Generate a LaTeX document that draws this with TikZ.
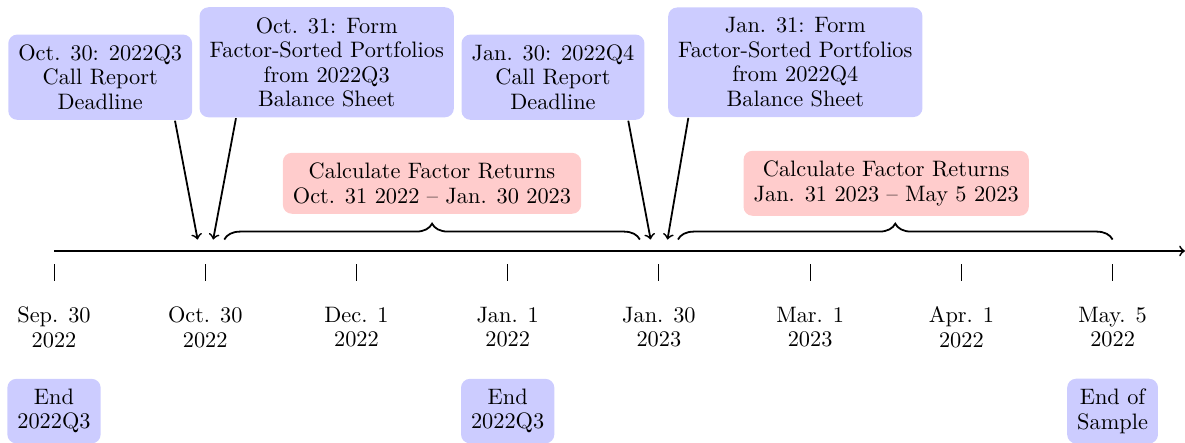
\documentclass[tikz,border=0pt]{standalone}
\usepackage{amsmath}
\usepackage{tikz}
\usetikzlibrary{calc}
\usetikzlibrary{positioning, decorations.pathreplacing}

\tikzset{
  event/.style={fill=blue!20, rounded corners, inner sep=4.5pt, align=center},
  period/.style={fill=red!20, rounded corners, inner sep=4.5pt, align=center},
  datelbl/.style={align=center},
  bracebar/.style={decorate, decoration={brace, amplitude=0.25cm}},
}

\begin{document}
\begin{tikzpicture}[thick, every node/.style={font=\fontsize{10}{11}\selectfont}]
			\useasboundingbox (-0.85,-3.022) rectangle (17.8,3.95);

			% Draw the time axis
			\coordinate (sep30) at (0,0);
			\coordinate (oct30) at (2.38,0);
			\coordinate (dec1) at (2.38*2,0);
			\coordinate (jan1) at (2.38*3,0);
			\coordinate (jan30) at (2.38*4,0);
			\coordinate (mar1) at (2.38*5,0);
			\coordinate (apr1) at (2.38*6,0);
			\coordinate (may5) at (2.38*7,0);
			\coordinate (axisend) at (17.8,0);
			\draw[->] (sep30) -- (axisend);

			% Draw the ticks below the axis
			\draw[thin] ($(sep30)+(0,-0.21)$) -- ($(sep30)+(0,-0.47)$);
			\draw[thin] ($(oct30)+(0,-0.21)$) -- ($(oct30)+(0,-0.47)$);
			\draw[thin] ($(dec1)+(0,-0.21)$) -- ($(dec1)+(0,-0.47)$);
			\draw[thin] ($(jan1)+(0,-0.21)$) -- ($(jan1)+(0,-0.47)$);
			\draw[thin] ($(jan30)+(0,-0.21)$) -- ($(jan30)+(0,-0.47)$);
			\draw[thin] ($(mar1)+(0,-0.21)$) -- ($(mar1)+(0,-0.47)$);
			\draw[thin] ($(apr1)+(0,-0.21)$) -- ($(apr1)+(0,-0.47)$);
			\draw[thin] ($(may5)+(0,-0.21)$) -- ($(may5)+(0,-0.47)$);

			% Dates under the ticks
			\node[datelbl] (sep30lbl) at ($(sep30)+(0,-1.2)$) {Sep. 30\\2022};
			\node[datelbl] (oct30lbl) at ($(oct30)+(0,-1.2)$) {Oct. 30\\2022};
			\node[datelbl] (dec1lbl) at ($(dec1)+(0,-1.2)$) {Dec. 1\\2022};
			\node[datelbl] (jan1lbl) at ($(jan1)+(0,-1.2)$) {Jan. 1\\2022};
			\node[datelbl] (jan30lbl) at ($(jan30)+(0,-1.2)$) {Jan. 30\\2023};
			\node[datelbl] (mar1lbl) at ($(mar1)+(0,-1.2)$) {Mar. 1\\2023};
			\node[datelbl] (apr1lbl) at ($(apr1)+(0,-1.2)$) {Apr. 1\\2022};
			\node[datelbl] (may5lbl) at ($(may5)+(0,-1.2)$) {May. 5\\2022};

			% Quarter ends
			\node[event] (endq3a) at ($(sep30)+(0,-2.52)$) {End\\2022Q3};
			\node[event] (endq3b) at ($(jan1)+(0,-2.52)$) {End\\2022Q3};
			\node[event] (endsample) at ($(may5)+(0,-2.52)$) {End of\\Sample};

			% Draw the events above the axis
			\node[event] (q3call) at (0.727, 2.735) {Oct. 30: 2022Q3\\Call Report\\Deadline};
			\node[event] (q3form) at (4.292, 2.97) {Oct. 31: Form\\Factor-Sorted Portfolios\\from 2022Q3\\Balance Sheet};
			\node[event] (q4call) at (7.853, 2.735) {Jan. 30: 2022Q4\\Call Report\\Deadline};
			\node[event] (q4form) at (11.667, 2.97) {Jan. 31: Form\\Factor-Sorted Portfolios\\from 2022Q4\\Balance Sheet};

			% Arrows from the events down to the axis
			\coordinate (q3calltip) at ($(oct30)+(-0.12,0.18)$);
			\coordinate (q3formtip) at ($(oct30)+(0.125,0.18)$);
			\coordinate (q4calltip) at ($(jan30)+(-0.13,0.18)$);
			\coordinate (q4formtip) at ($(jan30)+(0.135,0.18)$);
			\draw[->] (q3call.south -| 1.904,0) -- (q3calltip);
			\draw[->] (q3form.south -| 2.864,0) -- (q3formtip);
			\draw[->] (q4call.south -| 9.038,0) -- (q4calltip);
			\draw[->] (q4form.south -| 9.983,0) -- (q4formtip);

			% Return periods
			\draw[bracebar] ($(oct30)+(0.3,0.18)$) -- ($(jan30)+(-0.3,0.18)$);
			\draw[bracebar] ($(jan30)+(0.3,0.18)$) -- ($(may5)+(0,0.18)$);
			\node[period] (ret1) at (5.949, 1.065) {Calculate Factor Returns\\Oct. 31 2022 -- Jan. 30 2023};
			\node[period] (ret2) at (13.097, 1.065) {Calculate Factor Returns\\Jan. 31 2023 -- May 5 2023};

\end{tikzpicture}
\end{document}
